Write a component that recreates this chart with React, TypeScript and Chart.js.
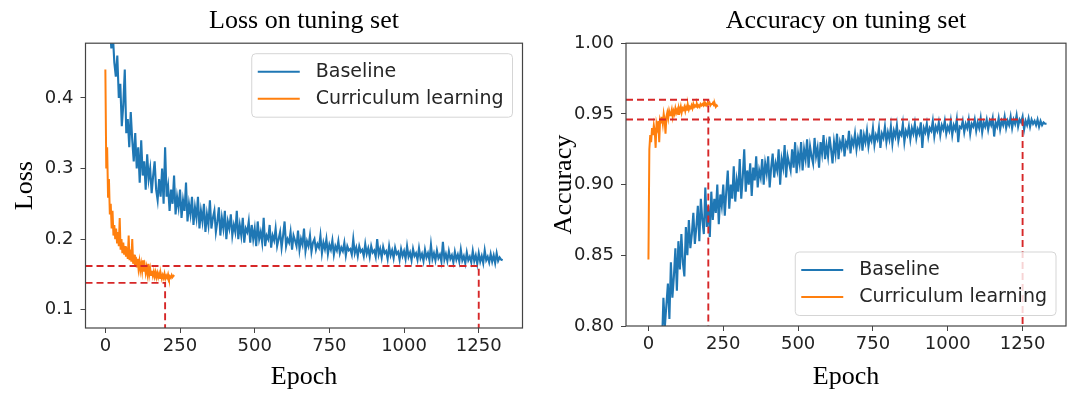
import React, { useEffect, useRef } from "react";
import { Chart, registerables } from "chart.js";

Chart.register(...registerables);

const COLOR_BASE = "#1f77b4";
const COLOR_CURR = "#ff7f0e";
const COLOR_REF = "#d62728";

const LEGEND_LABELS = ["Baseline", "Curriculum learning"];
const X_TICKS = [0, 250, 500, 750, 1000, 1250];
const LOSS_Y_TICKS = [0.1, 0.2, 0.3, 0.4];
const ACC_Y_TICKS = [0.8, 0.85, 0.9, 0.95, 1.0];

// epoch spacing of the sampled series
const BASE_STEP = 5;
const CURR_STEP = 3;

const LOSS_BASELINE = [
  0.62, 0.58, 0.55, 0.50, 0.47, 0.49, 0.45, 0.43, 0.46, 0.40,
  0.42, 0.36, 0.39, 0.44, 0.35, 0.37, 0.33, 0.38, 0.34, 0.31,
  0.35, 0.30, 0.33, 0.28, 0.34, 0.29, 0.31, 0.27, 0.32, 0.285,
  0.30, 0.265, 0.29, 0.31, 0.27, 0.255, 0.285, 0.26, 0.30, 0.25,
  0.33, 0.26, 0.275, 0.24, 0.27, 0.25, 0.29, 0.235, 0.26, 0.245,
  0.27, 0.23, 0.255, 0.24, 0.28, 0.225, 0.25, 0.235, 0.26, 0.22,
  0.245, 0.23, 0.26, 0.215, 0.24, 0.225, 0.25, 0.21, 0.235, 0.22,
  0.255, 0.215, 0.23, 0.24, 0.21, 0.225, 0.245, 0.205, 0.23, 0.215,
  0.24, 0.2, 0.225, 0.215, 0.235, 0.205, 0.22, 0.21, 0.24, 0.2,
  0.22, 0.205, 0.23, 0.195, 0.215, 0.21, 0.225, 0.195, 0.22, 0.2,
  0.215, 0.19, 0.225, 0.2, 0.21, 0.195, 0.23, 0.19, 0.205, 0.2,
  0.22, 0.188, 0.205, 0.198, 0.215, 0.19, 0.2, 0.21, 0.188, 0.205,
  0.225, 0.19, 0.2, 0.195, 0.21, 0.185, 0.205, 0.198, 0.19, 0.212,
  0.185, 0.2, 0.192, 0.215, 0.183, 0.197, 0.19, 0.205, 0.182, 0.195,
  0.2, 0.185, 0.193, 0.188, 0.205, 0.18, 0.195, 0.186, 0.2, 0.179,
  0.192, 0.185, 0.198, 0.178, 0.19, 0.184, 0.197, 0.18, 0.188, 0.183,
  0.195, 0.177, 0.19, 0.184, 0.186, 0.178, 0.2, 0.18, 0.188, 0.176,
  0.19, 0.182, 0.185, 0.176, 0.193, 0.179, 0.187, 0.175, 0.19, 0.181,
  0.184, 0.175, 0.2, 0.178, 0.186, 0.174, 0.189, 0.18, 0.183, 0.172,
  0.19, 0.177, 0.184, 0.173, 0.188, 0.179, 0.182, 0.171, 0.186, 0.176,
  0.183, 0.172, 0.19, 0.175, 0.181, 0.17, 0.186, 0.176, 0.18, 0.171,
  0.187, 0.173, 0.179, 0.169, 0.185, 0.174, 0.18, 0.17, 0.192, 0.172,
  0.18, 0.17, 0.184, 0.173, 0.178, 0.168, 0.196, 0.171, 0.179, 0.169,
  0.183, 0.172, 0.177, 0.167, 0.182, 0.171, 0.178, 0.168, 0.185, 0.17,
  0.176, 0.166, 0.181, 0.17, 0.175, 0.167, 0.183, 0.169, 0.177, 0.165,
  0.18, 0.168, 0.176, 0.166, 0.184, 0.17, 0.175, 0.167, 0.179, 0.168,
  0.177, 0.166, 0.18, 0.169, 0.174, 0.171, 0.17,
];

const LOSS_CURRICULUM = [
  0.44, 0.30, 0.33, 0.26, 0.285, 0.235, 0.25, 0.215, 0.24, 0.205,
  0.22, 0.20, 0.215, 0.195, 0.21, 0.19, 0.23, 0.185, 0.20, 0.18,
  0.195, 0.178, 0.19, 0.175, 0.188, 0.172, 0.205, 0.17, 0.185, 0.168,
  0.20, 0.165, 0.178, 0.163, 0.175, 0.16, 0.172, 0.158, 0.168, 0.156,
  0.165, 0.155, 0.17, 0.154, 0.162, 0.152, 0.16, 0.151, 0.165, 0.15,
  0.158, 0.149, 0.155, 0.148, 0.154, 0.147, 0.153, 0.146, 0.152, 0.146,
  0.151, 0.145, 0.15, 0.144, 0.149, 0.145, 0.151, 0.144, 0.148, 0.145,
  0.15, 0.144, 0.147, 0.145, 0.149, 0.146, 0.148, 0.147,
];

const ACC_BASELINE = [
  0.68, 0.70, 0.715, 0.73, 0.75, 0.745, 0.77, 0.765, 0.80, 0.785,
  0.82, 0.80, 0.815, 0.83, 0.805, 0.845, 0.82, 0.835, 0.855, 0.825,
  0.86, 0.84, 0.865, 0.845, 0.835, 0.87, 0.85, 0.875, 0.855, 0.865,
  0.88, 0.858, 0.87, 0.885, 0.86, 0.89, 0.875, 0.865, 0.898, 0.87,
  0.885, 0.863, 0.895, 0.875, 0.89, 0.88, 0.9, 0.872, 0.893, 0.885,
  0.9, 0.878, 0.895, 0.91, 0.883, 0.9, 0.89, 0.913, 0.888, 0.903,
  0.895, 0.918, 0.89, 0.905, 0.925, 0.895, 0.91, 0.9, 0.915, 0.892,
  0.912, 0.903, 0.92, 0.898, 0.91, 0.905, 0.918, 0.9, 0.915, 0.908,
  0.92, 0.898, 0.912, 0.922, 0.905, 0.915, 0.91, 0.925, 0.9, 0.918,
  0.912, 0.928, 0.905, 0.92, 0.915, 0.91, 0.925, 0.912, 0.93, 0.908,
  0.922, 0.915, 0.93, 0.91, 0.925, 0.918, 0.932, 0.912, 0.927, 0.92,
  0.915, 0.933, 0.92, 0.926, 0.912, 0.93, 0.922, 0.935, 0.918, 0.928,
  0.92, 0.934, 0.925, 0.915, 0.93, 0.922, 0.936, 0.918, 0.93, 0.926,
  0.935, 0.92, 0.93, 0.927, 0.938, 0.922, 0.932, 0.928, 0.936, 0.925,
  0.933, 0.928, 0.939, 0.924, 0.935, 0.93, 0.938, 0.927, 0.934, 0.931,
  0.94, 0.928, 0.935, 0.932, 0.94, 0.926, 0.936, 0.933, 0.941, 0.93,
  0.937, 0.932, 0.941, 0.929, 0.938, 0.934, 0.942, 0.931, 0.937, 0.935,
  0.943, 0.93, 0.938, 0.935, 0.941, 0.932, 0.94, 0.936, 0.943, 0.933,
  0.939, 0.936, 0.944, 0.926, 0.94, 0.937, 0.943, 0.934, 0.94, 0.938,
  0.945, 0.934, 0.941, 0.938, 0.944, 0.935, 0.942, 0.939, 0.945, 0.936,
  0.941, 0.938, 0.945, 0.935, 0.942, 0.939, 0.946, 0.93, 0.941, 0.94,
  0.945, 0.937, 0.943, 0.94, 0.946, 0.936, 0.943, 0.941, 0.946, 0.938,
  0.944, 0.94, 0.947, 0.937, 0.944, 0.941, 0.946, 0.939, 0.945, 0.942,
  0.947, 0.934, 0.944, 0.941, 0.947, 0.939, 0.945, 0.942, 0.948, 0.94,
  0.945, 0.942, 0.948, 0.94, 0.946, 0.943, 0.949, 0.941, 0.946, 0.944,
  0.948, 0.939, 0.945, 0.942, 0.947, 0.941, 0.946, 0.943, 0.945, 0.942,
  0.946, 0.941, 0.945, 0.942, 0.944, 0.943, 0.943,
];

const ACC_CURRICULUM = [
  0.847, 0.925, 0.935, 0.93, 0.94, 0.935, 0.942, 0.938, 0.926, 0.943,
  0.94, 0.945, 0.93, 0.946, 0.944, 0.948, 0.943, 0.95, 0.946, 0.936,
  0.948, 0.951, 0.947, 0.952, 0.949, 0.95, 0.953, 0.948, 0.952, 0.95,
  0.954, 0.951, 0.953, 0.95, 0.954, 0.952, 0.955, 0.951, 0.954, 0.953,
  0.955, 0.952, 0.955, 0.953, 0.956, 0.953, 0.955, 0.954, 0.956, 0.954,
  0.957, 0.955, 0.956, 0.955, 0.957, 0.955, 0.956, 0.955, 0.957, 0.956,
  0.957, 0.956, 0.958, 0.956, 0.957, 0.956, 0.958, 0.957, 0.958, 0.956,
  0.957, 0.957, 0.958, 0.956, 0.957, 0.955, 0.956, 0.955,
];

// dashed reference markers: epoch and value pairs
const LOSS_REF_EPOCHS = [1250, 200];
const LOSS_REF_VALUES = [0.162, 0.138];
const ACC_REF_EPOCHS = [1250, 200];
const ACC_REF_VALUES = [0.946, 0.96];

const LOSS_X_RANGE = [-66.5, 1396.5];
const LOSS_Y_RANGE = [0.0741, 0.4774];
const ACC_X_RANGE = [-75, 1395];
const ACC_Y_RANGE = [0.8, 1.0];

const SERIF = "'Liberation Serif', 'Times New Roman', serif";
const SANS = "'DejaVu Sans', sans-serif";

type PanelSpec = {
  title: string;
  yLabel: string;
  xRange: number[];
  yRange: number[];
  yTicks: number[];
  decimals: number;
  base: number[];
  curr: number[];
  refEpochs: number[];
  refValues: number[];
  legendCorner: "upper" | "lower";
  yAxisWidth: number;
  xAxisHeight: number;
  padRight: number;
  yTitlePad: number;
};

const mplPlugin = {
  id: "mplDecor",
  afterDraw(chart: any, _args: any, opts: any) {
    const { ctx, chartArea: a } = chart;
    ctx.save();
    // legend
    ctx.font = `19px ${SANS}`;
    const labels: string[] = opts.labels || [];
    const colors: string[] = opts.colors || [];
    const textW = Math.max(...labels.map((l) => ctx.measureText(l).width));
    const w = 64 + textW + 9;
    const h = 63.5;
    const x = a.right - opts.offsetRight - w;
    const y = opts.corner === "upper" ? a.top + opts.offsetY : a.bottom - opts.offsetY - h;
    ctx.beginPath();
    if ((ctx as any).roundRect) (ctx as any).roundRect(x, y, w, h, 4);
    else ctx.rect(x, y, w, h);
    ctx.fillStyle = "rgba(255,255,255,0.8)";
    ctx.fill();
    ctx.strokeStyle = "#d5d5d5";
    ctx.lineWidth = 1;
    ctx.stroke();
    labels.forEach((l, i) => {
      const ry = y + 18 + i * 27;
      ctx.beginPath();
      ctx.strokeStyle = colors[i];
      ctx.lineWidth = 2;
      ctx.moveTo(x + 6, ry);
      ctx.lineTo(x + 48, ry);
      ctx.stroke();
      ctx.fillStyle = "#262626";
      ctx.textAlign = "left";
      ctx.textBaseline = "middle";
      ctx.fillText(l, x + 64, ry);
    });
    // frame
    ctx.strokeStyle = "#444";
    ctx.lineWidth = 1.2;
    ctx.strokeRect(a.left, a.top, a.right - a.left, a.bottom - a.top);
    ctx.restore();
  },
};

function makeConfig(s: PanelSpec): any {
  const toPts = (vals: number[], step: number) => vals.map((v, i) => ({ x: i * step, y: v }));
  const refSets = s.refEpochs.map((e, i) => ({
    data: [
      { x: s.xRange[0], y: s.refValues[i] },
      { x: e, y: s.refValues[i] },
      { x: e, y: s.yRange[0] },
    ],
    borderColor: COLOR_REF,
    borderWidth: 1.9,
    borderDash: [7, 4],
    pointRadius: 0,
    order: 0,
  }));
  return {
    type: "line",
    data: {
      datasets: [
        { data: toPts(s.base, BASE_STEP), borderColor: COLOR_BASE, borderWidth: 2.1, pointRadius: 0, order: 2 },
        { data: toPts(s.curr, CURR_STEP), borderColor: COLOR_CURR, borderWidth: 2, pointRadius: 0, order: 1 },
        ...refSets,
      ],
    },
    options: {
      responsive: false,
      animation: false,
      events: [],
      layout: { padding: { left: 0, right: s.padRight, top: 0, bottom: 0 } },
      elements: { line: { tension: 0 } },
      plugins: {
        legend: { display: false },
        tooltip: { enabled: false },
        title: {
          display: true,
          text: s.title,
          fullSize: false,
          color: "#000",
          font: { family: SERIF, size: 26, weight: "normal", lineHeight: 1.2 },
          padding: { top: 6, bottom: 6 },
        },
        mplDecor: {
          labels: LEGEND_LABELS,
          colors: [COLOR_BASE, COLOR_CURR],
          corner: s.legendCorner,
          offsetRight: 10,
          offsetY: 10.5,
        },
      },
      scales: {
        x: {
          type: "linear",
          min: s.xRange[0],
          max: s.xRange[1],
          afterBuildTicks: (ax: any) => {
            ax.ticks = X_TICKS.map((v) => ({ value: v }));
          },
          afterFit: (ax: any) => {
            ax.height = s.xAxisHeight;
          },
          ticks: {
            font: { family: SANS, size: 18 },
            color: "#222",
            padding: 3,
            maxRotation: 0,
            autoSkip: false,
            callback: (v: any) => String(v),
          },
          grid: { display: true, drawOnChartArea: false, drawTicks: true, tickLength: 5, tickColor: "#444" },
          border: { display: false },
          title: {
            display: true,
            text: "Epoch",
            color: "#000",
            font: { family: SERIF, size: 26, lineHeight: 1.2 },
            padding: { top: 0, bottom: 0 },
          },
        },
        y: {
          type: "linear",
          min: s.yRange[0],
          max: s.yRange[1],
          afterBuildTicks: (ax: any) => {
            ax.ticks = s.yTicks.map((v) => ({ value: v }));
          },
          afterFit: (ax: any) => {
            ax.width = s.yAxisWidth;
          },
          ticks: {
            font: { family: SANS, size: 18 },
            color: "#222",
            padding: 7,
            callback: (v: any) => Number(v).toFixed(s.decimals),
          },
          grid: { display: true, drawOnChartArea: false, drawTicks: true, tickLength: 5, tickColor: "#444" },
          border: { display: false },
          title: {
            display: true,
            text: s.yLabel,
            color: "#000",
            font: { family: SERIF, size: 26, lineHeight: 1.2 },
            padding: { top: s.yTitlePad, bottom: 0 },
          },
        },
      },
    },
    plugins: [mplPlugin],
  };
}

const LOSS_PANEL: PanelSpec = {
  title: "Loss on tuning set",
  yLabel: "Loss",
  xRange: LOSS_X_RANGE,
  yRange: LOSS_Y_RANGE,
  yTicks: LOSS_Y_TICKS,
  decimals: 1,
  base: LOSS_BASELINE,
  curr: LOSS_CURRICULUM,
  refEpochs: LOSS_REF_EPOCHS,
  refValues: LOSS_REF_VALUES,
  legendCorner: "upper",
  yAxisWidth: 85.5,
  xAxisHeight: 65,
  padRight: 13.5,
  yTitlePad: 9.4,
};

const ACC_PANEL: PanelSpec = {
  title: "Accuracy on tuning set",
  yLabel: "Accuracy",
  xRange: ACC_X_RANGE,
  yRange: ACC_Y_RANGE,
  yTicks: ACC_Y_TICKS,
  decimals: 2,
  base: ACC_BASELINE,
  curr: ACC_CURRICULUM,
  refEpochs: ACC_REF_EPOCHS,
  refValues: ACC_REF_VALUES,
  legendCorner: "lower",
  yAxisWidth: 90,
  xAxisHeight: 67,
  padRight: 6,
  yTitlePad: 12.4,
};

function Panel({ spec, left }: { spec: PanelSpec; left: number }) {
  const ref = useRef<HTMLCanvasElement>(null);
  useEffect(() => {
    const chart = new Chart(ref.current as HTMLCanvasElement, makeConfig(spec));
    return () => chart.destroy();
  }, [spec]);
  return (
    <canvas
      ref={ref}
      width={536}
      height={393}
      style={{ position: "absolute", left, top: 0, width: 536, height: 393 }}
    />
  );
}

export default function App() {
  return (
    <div style={{ position: "fixed", left: 0, top: 0, width: 1072, height: 393, background: "#fff" }}>
      <Panel spec={LOSS_PANEL} left={0} />
      <Panel spec={ACC_PANEL} left={536} />
    </div>
  );
}
